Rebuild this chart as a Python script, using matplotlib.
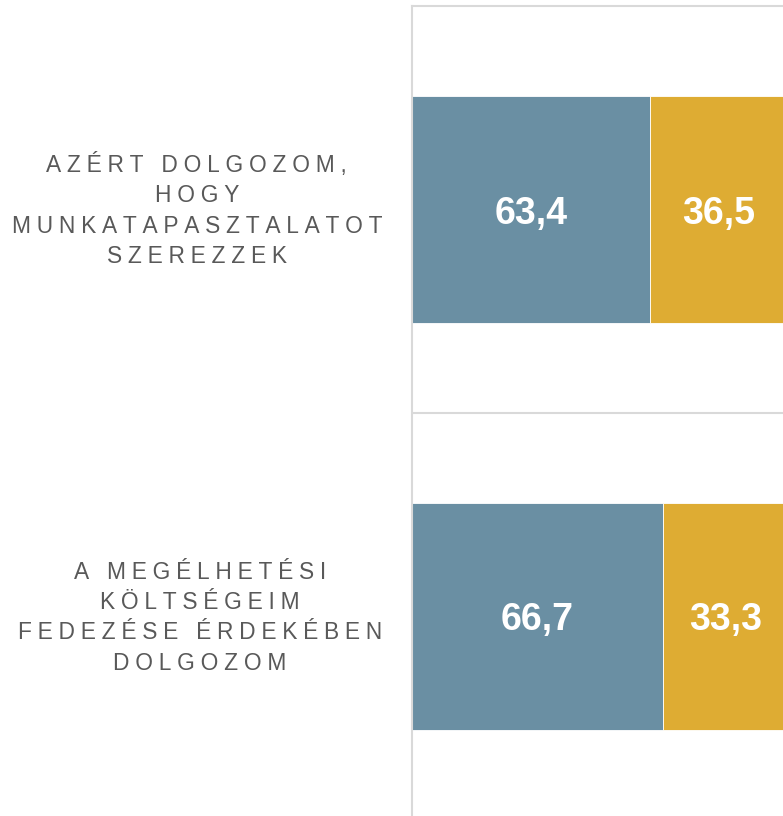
import matplotlib
matplotlib.use("Agg")
import matplotlib.pyplot as plt
from matplotlib.transforms import ScaledTranslation, blended_transform_factory

categories = ["AZÉRT DOLGOZOM,\nHOGY\nMUNKATAPASZTALATOT\nSZEREZZEK",
              "A MEGÉLHETÉSI\nKÖLTSÉGEIM\nFEDEZÉSE ÉRDEKÉBEN\nDOLGOZOM"]
series_a = [63.4, 66.7]
series_b = [36.5, 33.3]
color_a = "#6a8fa3"
color_b = "#deac33"

SEP = "\u2005"

def spaced(s):
    return "\n".join(SEP.join(line) for line in s.split("\n"))

fig = plt.figure(figsize=(7.83, 8.16), dpi=100)
W, H = 783, 816
ax = fig.add_axes([412 / W, -4 / H, (788 - 412) / W, (816 - 6 + 4) / H])

y = list(range(len(categories)))
bh = 0.56
ax.barh(y, series_a, height=bh, color=color_a, edgecolor="white", linewidth=0.6)
ax.barh(y, series_b, left=series_a, height=bh, color=color_b, edgecolor="white", linewidth=0.6)

fam = ["Liberation Sans", "DejaVu Sans"]
for i in y:
    a, b = series_a[i], series_b[i]
    ax.text(a / 2, i, f"{a:.1f}".replace(".", ","), ha="center", va="center_baseline",
            color="white", fontsize=27, fontweight="bold", family=fam)
    ax.text(a + b / 2, i, f"{b:.1f}".replace(".", ","), ha="center", va="center_baseline",
            color="white", fontsize=27, fontweight="bold", family=fam)

ax.set_xlim(0, 100)
ax.set_ylim(len(categories) - 0.5, -0.5)
ax.set_xticks([])
ax.set_yticks([])

label_tr = blended_transform_factory(ax.transAxes, ax.transData) + \
    ScaledTranslation(-0.30, 0.05, fig.dpi_scale_trans)
for i, c in zip(y, categories):
    ax.text(0, i, spaced(c), transform=label_tr, ha="right", va="center_baseline",
            multialignment="center", fontsize=16.4, color="#595959", family=fam,
            linespacing=1.41)

ax.set_yticks([0.5], minor=True)
ax.tick_params(axis="y", which="minor", length=0)
ax.grid(True, axis="y", which="minor", color="#d9d9d9", linewidth=1.5)
ax.set_axisbelow(True)

for side in ["right", "bottom"]:
    ax.spines[side].set_visible(False)
for side in ["left", "top"]:
    ax.spines[side].set_color("#d9d9d9")
    ax.spines[side].set_linewidth(1.5)

fig.savefig("out.png", dpi=100)
